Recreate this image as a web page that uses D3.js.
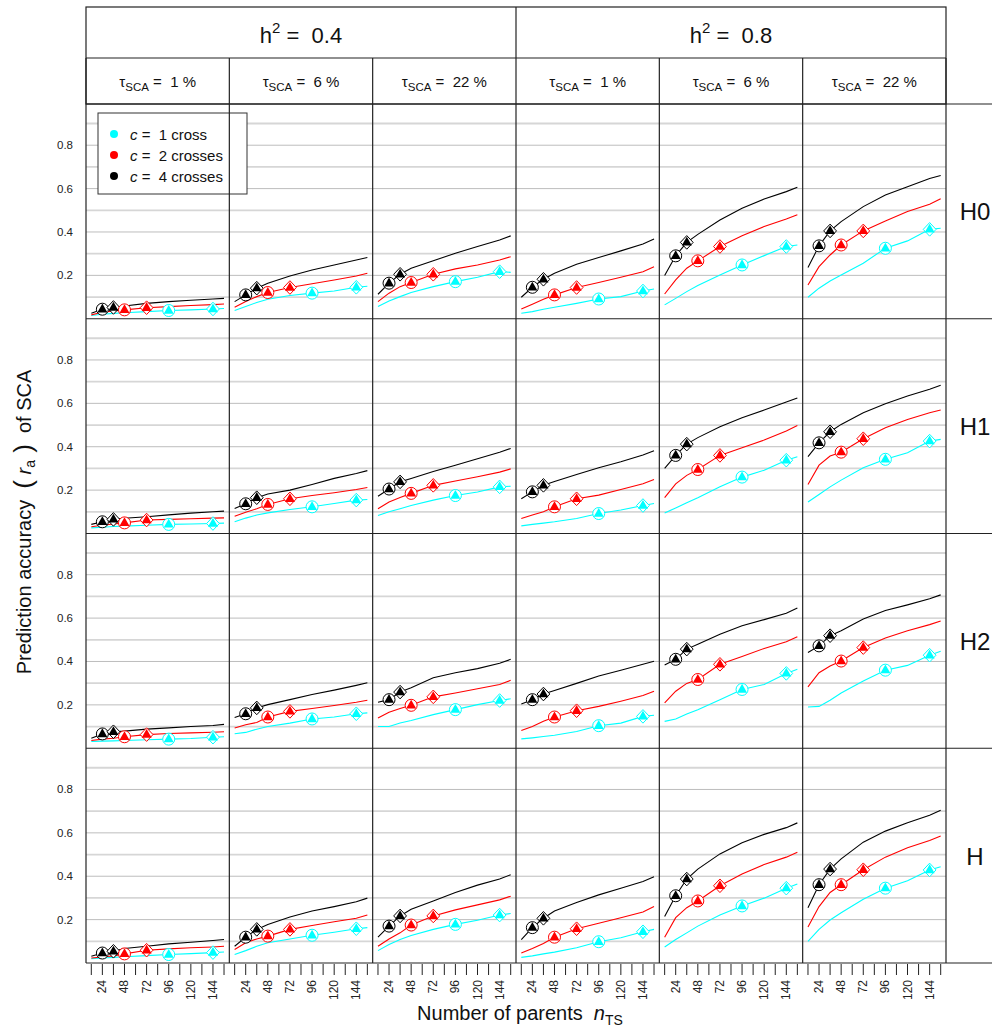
<!DOCTYPE html>
<html>
<head>
<meta charset="utf-8">
<script src="https://cdn.jsdelivr.net/npm/d3@7"></script>
<style>
  body { margin: 0; background: #fff; }
  svg { display: block; font-family: "Liberation Sans", Arial, sans-serif; }
  text { white-space: pre; }
</style>
</head>
<body>
<div id="chart"></div>
<script>
// x positions (number of parents) where each curve was read
const nParents = [12, 24, 36, 48, 72, 96, 120, 144, 156];
const xTicks = [12, 24, 36, 48, 60, 72, 84, 96, 108, 120, 132, 144, 156];
const xTickLabels = [24, 48, 72, 96, 120, 144];
const yTickLabels = [0.2, 0.4, 0.6, 0.8];
const gridLevels = [0.1, 0.2, 0.3, 0.4, 0.5, 0.6, 0.7, 0.8, 0.9];

const heritabilities = ["0.4", "0.8"];
const tauSCA = ["1", "6", "22"];
const scenarios = ["H0", "H1", "H2", "H"];
const crosses = [1, 2, 4];
const crossLabels = ["1 cross", "2 crosses", "4 crosses"];
const crossColors = ["#00ffff", "#ff0000", "#000000"];
// training set sizes marked with circle / diamond, per number of crosses
const circleAt = [96, 48, 24];
const diamondAt = [144, 72, 36];

// prediction accuracy, one array per scenario and c; 6 panels each (h2 0.4: 1,6,22 %, h2 0.8: 1,6,22 %)
const rH0_c1 = [
  [0.015, 0.021, 0.025, 0.028, 0.033, 0.038, 0.041, 0.045, 0.047],
  [0.038, 0.056, 0.075, 0.090, 0.107, 0.118, 0.128, 0.145, 0.150],
  [0.056, 0.082, 0.102, 0.121, 0.148, 0.171, 0.191, 0.217, 0.214],
  [0.025, 0.033, 0.044, 0.053, 0.071, 0.091, 0.102, 0.128, 0.137],
  [0.064, 0.094, 0.125, 0.153, 0.202, 0.248, 0.291, 0.333, 0.340],
  [0.099, 0.141, 0.174, 0.202, 0.256, 0.325, 0.359, 0.412, 0.417]
];
const rH0_c2 = [
  [0.018, 0.030, 0.036, 0.041, 0.051, 0.056, 0.061, 0.065, 0.068],
  [0.053, 0.079, 0.102, 0.121, 0.144, 0.161, 0.179, 0.197, 0.210],
  [0.079, 0.118, 0.148, 0.167, 0.205, 0.230, 0.248, 0.271, 0.286],
  [0.045, 0.067, 0.090, 0.110, 0.144, 0.167, 0.191, 0.217, 0.240],
  [0.114, 0.179, 0.233, 0.267, 0.333, 0.383, 0.425, 0.460, 0.479],
  [0.156, 0.240, 0.294, 0.340, 0.405, 0.451, 0.494, 0.528, 0.553]
];
const rH0_c4 = [
  [0.025, 0.044, 0.052, 0.059, 0.071, 0.079, 0.085, 0.091, 0.094],
  [0.079, 0.110, 0.141, 0.164, 0.197, 0.225, 0.248, 0.271, 0.282],
  [0.113, 0.164, 0.205, 0.233, 0.267, 0.302, 0.333, 0.363, 0.382],
  [0.099, 0.145, 0.182, 0.210, 0.251, 0.282, 0.313, 0.345, 0.368],
  [0.199, 0.290, 0.352, 0.389, 0.455, 0.509, 0.552, 0.586, 0.606],
  [0.236, 0.336, 0.405, 0.448, 0.517, 0.571, 0.609, 0.647, 0.660]
];
const rH1_c1 = [
  [0.026, 0.029, 0.032, 0.034, 0.038, 0.042, 0.044, 0.046, 0.048],
  [0.054, 0.071, 0.085, 0.095, 0.111, 0.123, 0.138, 0.154, 0.157],
  [0.083, 0.100, 0.114, 0.129, 0.154, 0.175, 0.191, 0.215, 0.218],
  [0.035, 0.042, 0.048, 0.054, 0.069, 0.092, 0.108, 0.129, 0.138],
  [0.095, 0.118, 0.142, 0.165, 0.215, 0.260, 0.292, 0.338, 0.354],
  [0.145, 0.180, 0.215, 0.246, 0.303, 0.342, 0.372, 0.426, 0.434]
];
const rH1_c2 = [
  [0.031, 0.038, 0.044, 0.049, 0.062, 0.065, 0.068, 0.071, 0.072],
  [0.080, 0.098, 0.114, 0.134, 0.160, 0.175, 0.188, 0.203, 0.212],
  [0.114, 0.145, 0.166, 0.185, 0.222, 0.242, 0.262, 0.283, 0.298],
  [0.069, 0.085, 0.100, 0.123, 0.160, 0.177, 0.203, 0.229, 0.249],
  [0.165, 0.229, 0.268, 0.295, 0.360, 0.395, 0.431, 0.472, 0.498],
  [0.226, 0.315, 0.357, 0.375, 0.437, 0.488, 0.526, 0.557, 0.569]
];
const rH1_c4 = [
  [0.042, 0.054, 0.065, 0.070, 0.077, 0.086, 0.094, 0.100, 0.103],
  [0.115, 0.137, 0.165, 0.182, 0.200, 0.226, 0.254, 0.277, 0.290],
  [0.172, 0.205, 0.238, 0.254, 0.286, 0.315, 0.345, 0.375, 0.392],
  [0.160, 0.192, 0.222, 0.240, 0.272, 0.303, 0.331, 0.362, 0.381],
  [0.300, 0.360, 0.412, 0.442, 0.492, 0.534, 0.569, 0.606, 0.625],
  [0.354, 0.418, 0.469, 0.503, 0.557, 0.598, 0.634, 0.665, 0.683]
];
const rH2_c1 = [
  [0.031, 0.033, 0.034, 0.036, 0.039, 0.042, 0.045, 0.051, 0.053],
  [0.067, 0.073, 0.088, 0.100, 0.116, 0.135, 0.144, 0.159, 0.163],
  [0.100, 0.100, 0.116, 0.128, 0.155, 0.178, 0.201, 0.220, 0.228],
  [0.043, 0.048, 0.054, 0.060, 0.077, 0.104, 0.116, 0.147, 0.152],
  [0.124, 0.135, 0.158, 0.178, 0.224, 0.271, 0.294, 0.345, 0.364],
  [0.190, 0.193, 0.221, 0.255, 0.310, 0.360, 0.382, 0.429, 0.447]
];
const rH2_c2 = [
  [0.036, 0.042, 0.046, 0.053, 0.063, 0.068, 0.071, 0.074, 0.076],
  [0.093, 0.108, 0.119, 0.144, 0.170, 0.183, 0.197, 0.212, 0.221],
  [0.139, 0.166, 0.183, 0.198, 0.237, 0.255, 0.274, 0.294, 0.313],
  [0.082, 0.100, 0.124, 0.144, 0.173, 0.193, 0.217, 0.243, 0.263],
  [0.209, 0.263, 0.299, 0.317, 0.387, 0.423, 0.460, 0.491, 0.514],
  [0.283, 0.348, 0.379, 0.402, 0.464, 0.508, 0.542, 0.570, 0.587]
];
const rH2_c4 = [
  [0.046, 0.066, 0.076, 0.079, 0.088, 0.094, 0.100, 0.105, 0.110],
  [0.142, 0.159, 0.186, 0.201, 0.224, 0.248, 0.268, 0.290, 0.302],
  [0.212, 0.224, 0.259, 0.279, 0.325, 0.348, 0.367, 0.392, 0.410],
  [0.204, 0.224, 0.250, 0.266, 0.299, 0.333, 0.360, 0.387, 0.401],
  [0.384, 0.410, 0.457, 0.480, 0.526, 0.565, 0.593, 0.622, 0.647],
  [0.441, 0.472, 0.519, 0.542, 0.596, 0.635, 0.661, 0.689, 0.707]
];
const rH_c1 = [
  [0.020, 0.023, 0.026, 0.029, 0.034, 0.039, 0.043, 0.048, 0.051],
  [0.039, 0.057, 0.077, 0.093, 0.111, 0.128, 0.142, 0.158, 0.163],
  [0.057, 0.085, 0.108, 0.127, 0.155, 0.178, 0.197, 0.221, 0.228],
  [0.026, 0.033, 0.042, 0.050, 0.070, 0.098, 0.116, 0.144, 0.155],
  [0.074, 0.108, 0.139, 0.170, 0.221, 0.263, 0.299, 0.345, 0.364],
  [0.100, 0.155, 0.198, 0.232, 0.294, 0.345, 0.379, 0.429, 0.444]
];
const rH_c2 = [
  [0.023, 0.028, 0.033, 0.042, 0.059, 0.065, 0.070, 0.074, 0.077],
  [0.062, 0.093, 0.111, 0.124, 0.155, 0.173, 0.190, 0.206, 0.221],
  [0.077, 0.111, 0.139, 0.175, 0.217, 0.245, 0.268, 0.291, 0.308],
  [0.046, 0.067, 0.090, 0.119, 0.158, 0.183, 0.209, 0.235, 0.260],
  [0.119, 0.209, 0.255, 0.286, 0.356, 0.410, 0.454, 0.488, 0.511],
  [0.166, 0.260, 0.325, 0.361, 0.430, 0.488, 0.531, 0.565, 0.585]
];
const rH_c4 = [
  [0.031, 0.046, 0.054, 0.067, 0.077, 0.088, 0.096, 0.104, 0.108],
  [0.077, 0.119, 0.155, 0.178, 0.212, 0.240, 0.260, 0.282, 0.299],
  [0.119, 0.170, 0.217, 0.248, 0.286, 0.325, 0.359, 0.387, 0.407],
  [0.108, 0.163, 0.206, 0.240, 0.279, 0.314, 0.345, 0.376, 0.398],
  [0.214, 0.310, 0.387, 0.433, 0.503, 0.554, 0.593, 0.624, 0.646],
  [0.255, 0.361, 0.433, 0.480, 0.557, 0.608, 0.647, 0.681, 0.704]
];

const accuracy = [
  [rH0_c1, rH0_c2, rH0_c4],
  [rH1_c1, rH1_c2, rH1_c4],
  [rH2_c1, rH2_c2, rH2_c4],
  [rH_c1, rH_c2, rH_c4]
];

// layout
const svgW = 994, svgH = 1030;
const plotLeft = 86, plotRight = 946, stripRight = 992;
const headTop = 7, headMid = 58, plotTop = 104, plotBottom = 963;
const colW = (plotRight - plotLeft) / 6;
const rowH = (plotBottom - plotTop) / 4;
const frameColor = "#222";

const svg = d3.select("#chart").append("svg")
    .attr("width", svgW)
    .attr("height", svgH);

svg.append("rect").attr("width", svgW).attr("height", svgH).attr("fill", "#fff");

const x = d3.scaleLinear().domain([6.24, 161.76]).range([0, colW]);
const y = d3.scaleLinear().domain([0, 0.99]).range([rowH, 0]);

const line = d3.line()
    .x(d => x(d[0]))
    .y(d => y(d[1]));

const trianglePath = "M0,-5.6L5,3.2L-5,3.2Z";
const diamondPath = "M0,-6.8L6.4,0L0,6.8L-6.4,0Z";

scenarios.forEach((scen, r) => {
    for (let j = 0; j < 6; j++) {
        const g = svg.append("g")
            .attr("transform", `translate(${plotLeft + j * colW},${plotTop + r * rowH})`);

        // horizontal reference lines
        g.selectAll("line.grid")
            .data(gridLevels)
            .enter()
            .append("line")
            .attr("class", "grid")
            .attr("x1", 0)
            .attr("x2", colW)
            .attr("y1", d => y(d))
            .attr("y2", d => y(d))
            .attr("stroke", (d, i) => i % 2 === 1 ? "#bdbdbd" : "#d6d6d6")
            .attr("stroke-width", (d, i) => i % 2 === 1 ? 1 : 1.8);

        crosses.forEach((c, k) => {
            const vals = accuracy[r][k][j];
            const pts = nParents.map((n, i) => [n, vals[i]]);
            g.append("path")
                .datum(pts)
                .attr("d", line)
                .attr("fill", "none")
                .attr("stroke", crossColors[k])
                .attr("stroke-width", 1.1);
        });

        // markers: c = 4 first so the later groups sit on top
        [2, 1, 0].forEach(k => {
            const vals = accuracy[r][k][j];
            const at = n => [x(n), y(vals[nParents.indexOf(n)])];
            const [cx, cy] = at(circleAt[k]);
            const [dx, dy] = at(diamondAt[k]);

            g.append("circle")
                .attr("cx", cx).attr("cy", cy).attr("r", 6)
                .attr("fill", "#fff")
                .attr("stroke", crossColors[k])
                .attr("stroke-width", 1);
            g.append("path")
                .attr("d", diamondPath)
                .attr("transform", `translate(${dx},${dy})`)
                .attr("fill", "#fff")
                .attr("stroke", crossColors[k])
                .attr("stroke-width", 1);

            [[cx, cy], [dx, dy]].forEach(p => {
                g.append("path")
                    .attr("d", trianglePath)
                    .attr("transform", `translate(${p[0]},${p[1]})`)
                    .attr("fill", crossColors[k]);
            });
        });
    }

    // y tick labels for the row
    svg.selectAll(null)
        .data(yTickLabels)
        .enter()
        .append("text")
        .attr("x", 73)
        .attr("y", d => plotTop + r * rowH + y(d) + 4)
        .attr("text-anchor", "end")
        .attr("font-size", 11.5)
        .attr("fill", "#222")
        .text(d => d.toFixed(1));

    // strip label on the right
    svg.append("text")
        .attr("x", 975)
        .attr("y", plotTop + r * rowH + rowH / 2 + 9)
        .attr("text-anchor", "middle")
        .attr("font-size", 24)
        .attr("fill", "#111")
        .text(scen);
});

// legend (inside first panel)
const legend = svg.append("g").attr("transform", "translate(98,113)");
legend.append("rect")
    .attr("width", 149)
    .attr("height", 81)
    .attr("fill", "#fff")
    .attr("stroke", "#333")
    .attr("stroke-width", 1);
crosses.forEach((c, k) => {
    legend.append("circle")
        .attr("cx", 16).attr("cy", 21 + k * 21).attr("r", 4)
        .attr("fill", crossColors[k]);
    const t = legend.append("text")
        .attr("x", 32).attr("y", 26.5 + k * 21)
        .attr("font-size", 15)
        .attr("fill", "#111");
    t.append("tspan").attr("font-style", "italic").text("c");
    t.append("tspan").text(" =  " + crossLabels[k]);
});

// header: heritability row
heritabilities.forEach((h, i) => {
    const t = svg.append("text")
        .attr("x", plotLeft + (i * 3 + 1.5) * colW)
        .attr("y", 42.5)
        .attr("text-anchor", "middle")
        .attr("font-size", 22)
        .attr("fill", "#111");
    t.append("tspan").text("h");
    t.append("tspan").attr("font-size", 15).attr("dy", -10).text("2");
    t.append("tspan").attr("dy", 10).text(" =  " + h);
});

// header: tau row
heritabilities.forEach((h, i) => {
    tauSCA.forEach((tau, k) => {
        const t = svg.append("text")
            .attr("x", plotLeft + (i * 3 + k + 0.5) * colW)
            .attr("y", 87)
            .attr("text-anchor", "middle")
            .attr("font-size", 15)
            .attr("fill", "#111");
        t.append("tspan").text("τ");
        t.append("tspan").attr("font-size", 11.5).attr("dy", 4).text("SCA");
        t.append("tspan").attr("dy", -4).text(" =  " + tau + " %");
    });
});

// x axis ticks and labels under each column
for (let j = 0; j < 6; j++) {
    const gx = svg.append("g").attr("transform", `translate(${plotLeft + j * colW},${plotBottom})`);
    gx.selectAll("line")
        .data(xTicks)
        .enter()
        .append("line")
        .attr("x1", d => x(d)).attr("x2", d => x(d))
        .attr("y1", 1).attr("y2", 12)
        .attr("stroke", "#222")
        .attr("stroke-width", 1);
    gx.selectAll("text")
        .data(xTickLabels)
        .enter()
        .append("text")
        .attr("transform", d => `translate(${x(d) + 4},17) rotate(-90)`)
        .attr("text-anchor", "end")
        .attr("font-size", 12)
        .attr("fill", "#222")
        .text(d => d);
}

// frame lines
const frame = svg.append("g")
    .attr("stroke", frameColor)
    .attr("stroke-width", 1.2)
    .attr("fill", "none");
frame.append("rect")
    .attr("x", plotLeft).attr("y", headTop)
    .attr("width", plotRight - plotLeft).attr("height", plotTop - headTop);
frame.append("line").attr("x1", plotLeft).attr("x2", plotRight).attr("y1", headMid).attr("y2", headMid);
frame.append("line").attr("x1", plotLeft + 3 * colW).attr("x2", plotLeft + 3 * colW).attr("y1", headTop).attr("y2", headMid);
d3.range(7).forEach(j => {
    frame.append("line")
        .attr("x1", plotLeft + j * colW).attr("x2", plotLeft + j * colW)
        .attr("y1", headMid).attr("y2", plotBottom);
});
d3.range(5).forEach(r => {
    frame.append("line")
        .attr("x1", plotLeft).attr("x2", stripRight)
        .attr("y1", plotTop + r * rowH).attr("y2", plotTop + r * rowH);
});

// axis titles
const yt = svg.append("text")
    .attr("transform", "translate(31,522) rotate(-90)")
    .attr("text-anchor", "middle")
    .attr("font-size", 20)
    .attr("fill", "#111");
yt.append("tspan").text("Prediction accuracy  ");
yt.append("tspan").attr("font-size", 26).attr("dy", 1).text("(");
yt.append("tspan").attr("font-style", "italic").attr("dy", -1).text(" r");
yt.append("tspan").attr("font-size", 14).attr("dy", 4).text("a");
yt.append("tspan").attr("font-size", 26).attr("dy", -3).text(" )");
yt.append("tspan").attr("dy", -1).text("  of SCA");

const xt = svg.append("text")
    .attr("x", 520)
    .attr("y", 1020)
    .attr("text-anchor", "middle")
    .attr("font-size", 20)
    .attr("fill", "#111");
xt.append("tspan").text("Number of parents  ");
xt.append("tspan").attr("font-style", "italic").text("n");
xt.append("tspan").attr("font-size", 14).attr("dy", 5).text("TS");
</script>
</body>
</html>
